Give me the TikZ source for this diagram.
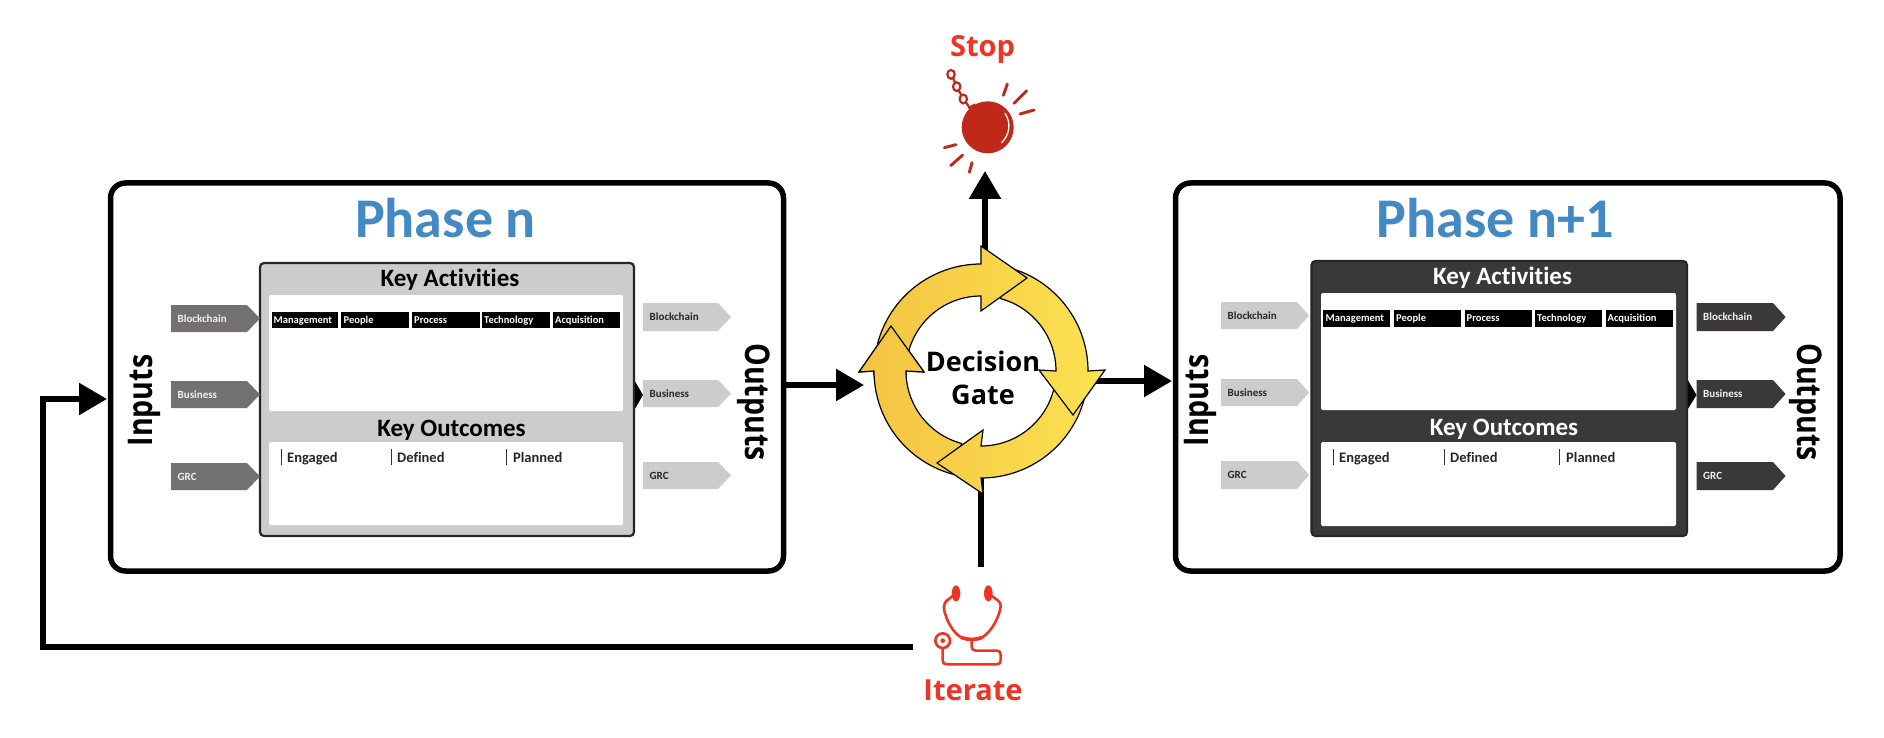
\documentclass[tikz,border=0pt]{standalone}
\usepackage{fontspec}
\usepackage{graphicx}
\setmainfont[Ligatures=NoCommon]{Carlito}
\newfontfamily\opensans{Open Sans}
\usetikzlibrary{arrows.meta,fit,calc}
\definecolor{titleblue}{HTML}{4389C4}
\definecolor{lightgrey}{HTML}{CDCCCD}
\definecolor{midgrey}{HTML}{737070}
\definecolor{darkgrey}{HTML}{3A3838}
\definecolor{signalred}{HTML}{EE3524}
\definecolor{ballred}{HTML}{C0281A}
\definecolor{goldA}{HTML}{F4C242}
\definecolor{goldB}{HTML}{FCE351}
\newcommand{\fsz}[1]{\fontsize{#1}{#1}\selectfont}
\tikzset{
  phasebox/.style={draw=black,line width=5.5,rounded corners=15,fill=white,inner sep=0},
  panel/.style={fill=white,rounded corners=1.5,inner sep=0},
  corelight/.style={draw=black!85,line width=2.2,fill=lightgrey,rounded corners=4,inner sep=0},
  coredark/.style={draw=black!85,line width=2.2,fill=darkgrey,rounded corners=4,inner sep=0},
  cell/.style={fill=black,inner sep=0},
  celltext/.style={text=white,font=\bfseries\fsz{10.5},anchor=base west,inner sep=0},
  phasetitle/.style={text=titleblue,font=\bfseries\fsz{56},anchor=base,inner sep=0},
  keyhead/.style={font=\bfseries\fsz{25},anchor=base,inner sep=0},
  stagetext/.style={font=\bfseries\fsz{14.5},anchor=base west,inner sep=0,text=black!85},
  tick/.style={line width=0.9,draw=black!80},
  chevtext/.style={font=\bfseries\fsz{11},anchor=base west,inner sep=0},
  sidelabel/.style={font=\opensans\bfseries\fsz{34},inner sep=0},
  redlabel/.style={text=signalred,font=\opensans\bfseries\fsz{29},anchor=base,inner sep=0},
  gatetext/.style={font=\opensans\bfseries\fsz{27},inner sep=0,anchor=base},
  conn/.style={draw=black,line width=5.5,-{Triangle[length=28,width=31]}},
  plainconn/.style={draw=black,line width=5.5},
  ringline/.style={draw=black,line width=1.2},
  spark/.style={draw=ballred,line width=2.9,line cap=round},
  chainlink/.style={draw=ballred,line width=2.2},
  scope1/.style={draw=signalred,line width=2.6,line cap=round,line join=round},
}
\newcommand{\chev}[9]{%
  \fill[#1] (#4,#7) -- (#5,#7) -- (#6,{(#7+#8)/2}) -- (#5,#8) -- (#4,#8) -- cycle;
  \node[chevtext,text=#2] (#3) at ({#4+6.5},{(#7+#8)/2+3.8}) {#9};
}
\newcommand{\goldpiece}[1]{%
  \begin{scope}
    \clip #1;
    \shade[left color=goldA,right color=goldB] (855,240) rectangle (1110,500);
  \end{scope}
  \draw[ringline,line join=miter] #1;
}
% start angle, end angle, then the head: wing, tip, wing
\newcommand{\ringarrow}[5]{%
  \goldpiece{([shift={(981,371)}]#1:107) arc[start angle=#1,end angle=#2,radius=107] -- #3 -- #4 -- #5 -- ([shift={(981,371)}]#2:75) arc[start angle=#2,end angle=#1,radius=75] -- cycle}
}
\begin{document}
\begin{tikzpicture}[x=1pt,y=-1pt]
\useasboundingbox (0,0) rectangle (1884,738);

% ---------- Phase n ----------
\node[phasebox,fit={(110.5,183)(783.5,571)}] (phaseN) {};
\node[phasetitle] (titleN) at (445.5,237) {Phase n};
\fill[black] (633,378) -- (643,395) -- (633,412) -- cycle;
\node[corelight,fit={(260,263)(634,536)}] (coreN) {};
\node[keyhead] (actN) at (450,286) {Key Activities};
\node[panel,fit={(269,295)(623,411)}] (actPanelN) {};
\node[keyhead] (outN) at (451.5,436) {Key Outcomes};
\node[panel,fit={(269,442)(623,525)}] (outPanelN) {};
\node[cell,fit={(271.5,312)(338,328)}] (nc1) {};
\node[celltext] at (273.5,323) {Management};
\node[cell,fit={(341,312)(409,328)}] (nc2) {};
\node[celltext] at (343.5,323) {People};
\node[cell,fit={(412,312)(480,328)}] (nc3) {};
\node[celltext] at (414,323) {Process};
\node[cell,fit={(482,312)(549.5,328)}] (nc4) {};
\node[celltext] at (484,323) {Technology};
\node[cell,fit={(552.5,312)(620,328)}] (nc5) {};
\node[celltext] at (555,323) {Acquisition};
\draw[tick] (281,449) -- (281,465);
\draw[tick] (391,449) -- (391,465);
\draw[tick] (506,449) -- (506,465);
\node[stagetext] (ns1) at (287,462) {Engaged};
\node[stagetext] (ns2) at (397,462) {Defined};
\node[stagetext] (ns3) at (513,462) {Planned};
\chev{midgrey}{black!5}{nIn1}{171}{247}{260}{305}{332}{Blockchain}
\chev{midgrey}{black!5}{nIn2}{171}{247}{260}{381}{408}{Business}
\chev{midgrey}{black!5}{nIn3}{171}{247}{260}{463}{490}{GRC}
\chev{lightgrey}{black!85}{nOut1}{643}{718}{731}{303}{331}{Blockchain}
\chev{lightgrey}{black!85}{nOut2}{643}{718}{731}{380}{407}{Business}
\chev{lightgrey}{black!85}{nOut3}{643}{718}{731}{462}{489}{GRC}
\node[sidelabel,rotate=90,anchor=base] (inputsN) at (152,400.5) {\scalebox{0.84}[1]{Inputs}};
\node[sidelabel,rotate=-90,anchor=base] (outputsN) at (745,402) {\scalebox{0.84}[1]{Outputs}};

% ---------- Phase n+1 ----------
\node[phasebox,fit={(1175.5,183)(1840,571)}] (phaseM) {};
\node[phasetitle] (titleM) at (1495,237) {Phase n+1};
\fill[black] (1686,377) -- (1696.5,395) -- (1686,412) -- cycle;
\node[coredark,fit={(1311.5,261)(1687,536)}] (coreM) {};
\node[keyhead,text=white] (actM) at (1502.6,284) {Key Activities};
\node[panel,fit={(1321,293)(1676,410)}] (actPanelM) {};
\node[keyhead,text=white] (outM) at (1504,435) {Key Outcomes};
\node[panel,fit={(1321,442)(1676,526)}] (outPanelM) {};
\node[cell,fit={(1323.4,310)(1390.4,327)}] (mc1) {};
\node[celltext] at (1325.5,321.5) {Management};
\node[cell,fit={(1394,310)(1461,327)}] (mc2) {};
\node[celltext] at (1396,321.5) {People};
\node[cell,fit={(1464.7,310)(1531.7,327)}] (mc3) {};
\node[celltext] at (1466.5,321.5) {Process};
\node[cell,fit={(1535,310)(1602,327)}] (mc4) {};
\node[celltext] at (1537,321.5) {Technology};
\node[cell,fit={(1605.5,310)(1672.5,327)}] (mc5) {};
\node[celltext] at (1607.5,321.5) {Acquisition};
\draw[tick] (1333,449) -- (1333,465);
\draw[tick] (1444,449) -- (1444,465);
\draw[tick] (1559,449) -- (1559,465);
\node[stagetext] (ms1) at (1339,462) {Engaged};
\node[stagetext] (ms2) at (1450,462) {Defined};
\node[stagetext] (ms3) at (1566,462) {Planned};
\chev{lightgrey}{black!85}{mIn1}{1221}{1297}{1309}{302}{329}{Blockchain}
\chev{lightgrey}{black!85}{mIn2}{1221}{1297}{1309}{379}{406}{Business}
\chev{lightgrey}{black!85}{mIn3}{1221}{1297}{1309}{461}{489}{GRC}
\chev{darkgrey}{black!5}{mOut1}{1696.5}{1773}{1785.6}{303}{331}{Blockchain}
\chev{darkgrey}{black!5}{mOut2}{1696.5}{1773}{1785.6}{380}{408}{Business}
\chev{darkgrey}{black!5}{mOut3}{1696.5}{1773}{1785.6}{462}{490}{GRC}
\node[sidelabel,rotate=90,anchor=base] (inputsM) at (1208.5,400.5) {\scalebox{0.84}[1]{Inputs}};
\node[sidelabel,rotate=-90,anchor=base] (outputsM) at (1797,402) {\scalebox{0.84}[1]{Outputs}};

% ---------- Decision gate (anchor for the connectors) ----------
\node[circle,minimum size=214,inner sep=0] (gate) at (981,371) {};

% ---------- Stop and Iterate ----------
\node[redlabel] (stopLabel) at (982.5,57) {Stop};
\node[circle,fill=ballred,minimum size=52,inner sep=0] (stopBall) at (987.7,127.3) {};
\begin{scope}[shift={(900,20)},scale=1/3]
  \draw[white,line width=1.3,line cap=round] (315,280) .. controls (335,310) and (328,345) .. (305,368);
  \draw[chainlink] (153,163) ellipse (11 and 13);
  \draw[chainlink] (170,200) ellipse (11 and 13);
  \draw[chainlink] (190,237) ellipse (11 and 13);
  \draw[chainlink] (158,172) -- (166,190) (175,210) -- (185,227) (197,246) -- (208,262) (205,265) -- (225,253);
  \draw[spark] (310,226) -- (322,192);
  \draw[spark] (342,250) -- (380,212);
  \draw[spark] (360,282) -- (402,270);
  \draw[spark] (133,383) -- (168,374);
  \draw[spark] (152,437) -- (188,405);
  \draw[spark] (208,457) -- (216,428);
\end{scope}
\node[redlabel] (iterateLabel) at (973,700) {Iterate};
\begin{scope}[shift={(900,560)},scale=1/3]
  \fill[signalred] (168,100) ellipse (13 and 24);
  \fill[signalred] (265,100) ellipse (13 and 24);
  \draw[scope1] (158,108) -- (140,122) .. controls (130,132) and (130,145) .. (135,160) .. controls (145,195) and (165,222) .. (185,233) .. controls (205,240) and (225,240) .. (245,233) .. controls (265,222) and (290,190) .. (300,150) .. controls (304,135) and (302,128) .. (292,120) -- (275,108);
  \draw[signalred,line width=3.6,line cap=round] (185,233) .. controls (205,240) and (225,240) .. (245,233);
  \draw[scope1] (215,240) -- (215,260) .. controls (215,268) and (220,272) .. (228,272) -- (290,272) .. controls (298,272) and (302,276) .. (302,284) -- (302,301) .. controls (302,309) and (298,313) .. (290,313) -- (140,313) .. controls (132,313) and (128,309) .. (128,301) -- (128,265);
  \draw[scope1] (128,242) circle (22);
  \fill[signalred] (128,242) circle (7);
\end{scope}

% ---------- Connectors ----------
\coordinate (nOutFrom) at (phaseN.east |- 0,385);
\coordinate (gateIn) at (864,385);
\coordinate (gateOutFrom) at (1090,381);
\coordinate (mIn) at (1172,381);
\coordinate (stopFrom) at (985,255);
\coordinate (stopTip) at (985,171);
\coordinate (iterateUpTo) at (981,470);
\coordinate (iterateUpFrom) at (981,567);
\coordinate (iterateFrom) at (913,647);
\coordinate (loopA) at (43,647);
\coordinate (loopB) at (43,399);
\coordinate (nIn) at (107,399);
\draw[conn] (nOutFrom) -- (gateIn);
\draw[conn] (gateOutFrom) -- (mIn);
\draw[conn] (stopFrom) -- (stopTip);
\draw[plainconn] (iterateUpFrom) -- (iterateUpTo);
\draw[conn] (iterateFrom) -- (loopA) -- (loopB) -- (nIn);

% ---------- Ring: four block arrows, each head over the tail of the next ----------
\newcommand{\arrowD}{\ringarrow{105}{180}{(859,372)}{(891,326)}{(924,372)}}
\arrowD
\ringarrow{15}{90}{(983,494)}{(937,463)}{(983,430)}
\ringarrow{285}{360}{(1105,370)}{(1073,415)}{(1039,370)}
\ringarrow{195}{270}{(981,246)}{(1027,278)}{(981,311)}
\begin{scope}
  \clip (850,320) rectangle (930,376);
  \arrowD
\end{scope}
\node[gatetext] (gateLine1) at (983,371) {Decision};
\node[gatetext] (gateLine2) at (983,404) {Gate};
\end{tikzpicture}
\end{document}
